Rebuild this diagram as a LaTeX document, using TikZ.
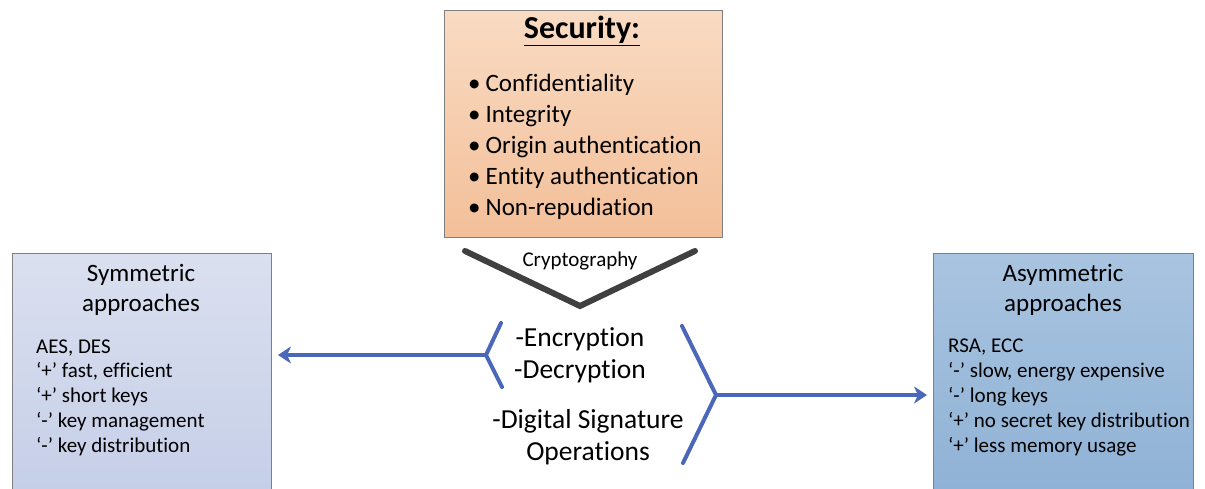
\documentclass[tikz,border=0pt]{standalone}
\usepackage{fontspec}
\setmainfont{Carlito}[Ligatures={TeX,NoCommon}]
\usepackage{xcolor}
\usetikzlibrary {arrows.meta, positioning}
\tikzset{
    >={Stealth[length=13pt, width=17pt, inset=4pt]}
}
\definecolor{boxline}{HTML}{7F7F7F}
\definecolor{peachtop}{HTML}{F9DBC3}
\definecolor{peachbot}{HTML}{F3BF99}
\definecolor{lilactop}{HTML}{DAE0EF}
\definecolor{lilacbot}{HTML}{C5CEE8}
\definecolor{skytop}{HTML}{A9C4E0}
\definecolor{skybot}{HTML}{8EB1D5}
\definecolor{linkblue}{HTML}{4A67B9}
\definecolor{chevron}{HTML}{404040}
\tikzset{
    panel/.style={draw=boxline, line width=1pt, inner sep=0pt},
    txt/.style={inner sep=0pt, anchor=base west},
    ctxt/.style={inner sep=0pt, anchor=base},
    bracket/.style={draw=linkblue, line width=4pt, line cap=round, line join=round}
}

\begin{document}
\begin{tikzpicture}[x=1pt, y=-1pt]
\useasboundingbox (0,0) rectangle (1205,489);

% top
\begin{scope}
    \node[panel, top color=peachtop, bottom color=peachbot, minimum width=278pt, minimum height=227pt,
        anchor=north west] (security) at (444,10) {};
    \node[ctxt, font=\fontsize{32}{38}\selectfont\bfseries] (sectitle) at (582,39) {\underline{Security:}};
    \foreach \name/\y/\item in {conf/92/Confidentiality, integ/123/Integrity,
        origin/154/Origin authentication, entity/185/Entity authentication, nonrep/216/Non-repudiation}
        \node[txt, font=\fontsize{25}{31}\selectfont] (\name) at (468,\y) {\textbullet\hspace{5pt}\item};
\end{scope}

% left
\begin{scope}
    \node[panel, top color=lilactop, bottom color=lilacbot, minimum width=259pt, minimum height=250pt,
        anchor=north west] (sym) at (12,253) {};
    \node[ctxt, font=\fontsize{25}{31}\selectfont] (symtitle) at (141,281.5) {Symmetric};
    \node[ctxt, font=\fontsize{25}{31}\selectfont] (symsub) at (141,311.5) {approaches};
    \foreach \name/\y/\item in {symA/353/{AES, DES}, symB/377/{`+' fast, efficient}, symC/402/{`+' short keys},
        symD/427/{`-' key management}, symE/452/{`-' key distribution}}
        \node[txt, font=\fontsize{21}{25}\selectfont] (\name) at (36,\y) {\item};
\end{scope}

% right
\begin{scope}
    \node[panel, top color=skytop, bottom color=skybot, minimum width=260pt, minimum height=250pt,
        anchor=north west] (asym) at (933,253) {};
    \node[ctxt, font=\fontsize{25}{31}\selectfont] (asymtitle) at (1063,281.5) {Asymmetric};
    \node[ctxt, font=\fontsize{25}{31}\selectfont] (asymsub) at (1063,311.5) {approaches};
    \foreach \name/\y/\item in {asymA/352/{RSA, ECC}, asymB/377/{`-' slow, energy expensive}, asymC/402/{`-' long keys},
        asymD/427/{`+' no secret key distribution}, asymE/452/{`+' less memory usage}}
        \node[txt, font=\fontsize{21}{25}\selectfont] (\name) at (948,\y) {\item};
\end{scope}

% middle
\node[ctxt, font=\fontsize{21}{25}\selectfont] (crypto) at (580,266.5) {Cryptography};
\node[ctxt, font=\fontsize{27.5}{32}\selectfont] (enc) at (580,346.5) {-Encryption};
\node[ctxt, font=\fontsize{27.5}{32}\selectfont] (dec) at (580,378) {-Decryption};
\node[ctxt, font=\fontsize{27.5}{32}\selectfont] (digsig) at (588,428) {-Digital Signature};
\node[ctxt, font=\fontsize{27.5}{32}\selectfont] (ops) at (588,460.5) {Operations};

% chevron under security
\coordinate (chL) at (465,251);
\coordinate (chM) at (580,306);
\coordinate (chR) at (695,251);
\draw[chevron, line width=6pt, line cap=round, line join=miter] (chL) -- (chM) -- (chR);

% brackets and arrows
\coordinate (lbT) at (501,323);
\coordinate (lbM) at (486,355);
\coordinate (lbB) at (502,387);
\coordinate (rbT) at (682,326);
\coordinate (rbM) at (716,395);
\coordinate (rbB) at (683,463);
\draw[bracket] (lbT) -- (lbM) -- (lbB);
\draw[bracket] (rbT) -- (rbM) -- (rbB);
\draw[linkblue, line width=4pt, ->, shorten >=6pt] (lbM) -- (sym.east |- lbM);
\draw[linkblue, line width=4pt, ->, shorten >=6pt] (rbM) -- (asym.west |- rbM);
\end{tikzpicture}
\end{document}
